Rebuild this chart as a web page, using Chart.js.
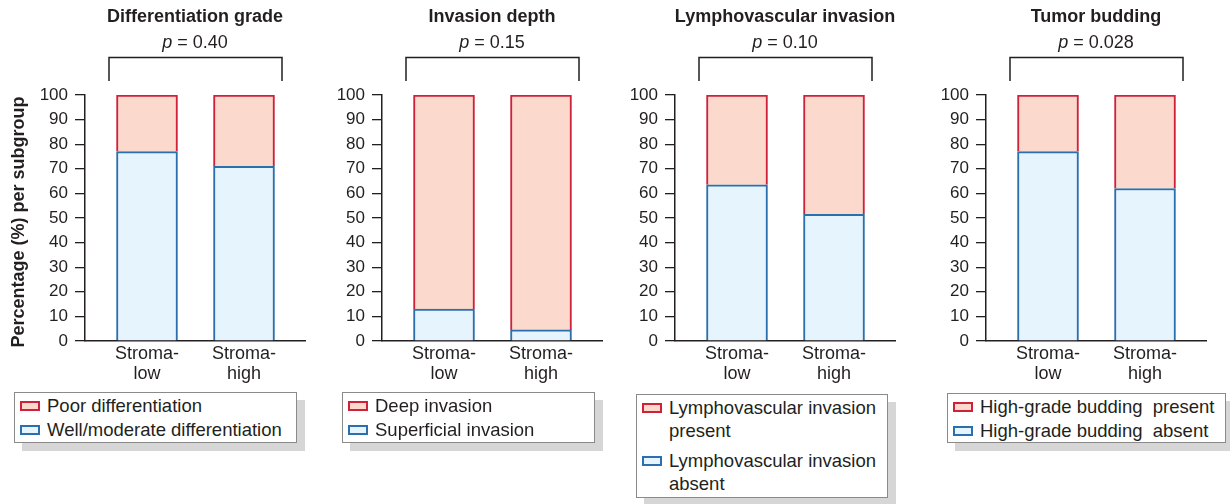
<!DOCTYPE html>
<html>
<head>
<meta charset="utf-8">
<script src="https://cdn.jsdelivr.net/npm/chart.js@4.4.1/dist/chart.umd.min.js"></script>
<style>
  body { margin: 0; background: #fff; }
  #wrap { position: relative; width: 1230px; height: 504px; overflow: hidden; font-family: 'Liberation Sans', Arial, sans-serif; color: #231f20; }
  .panel { position: absolute; top: 0; width: 310px; height: 390px; }
  .legend { position: absolute; box-sizing: border-box; background: #fff; border: 1px solid #8a8a8a;
            box-shadow: 8px 8px 0 #d6d6d6; font-size: 18.5px; line-height: 23px; padding: 1px 0 0 0; }
  .item { position: relative; padding-left: 32px; white-space: pre; margin-bottom: 1px; }
  .sw { position: absolute; left: 5px; top: 7px; width: 20px; height: 10px; box-sizing: border-box; border: 2px solid; }
</style>
</head>
<body>
<div id="wrap">
  <div class="panel" style="left:0px"><canvas id="c0" width="310" height="390"></canvas></div>
  <div class="panel" style="left:297px"><canvas id="c1" width="310" height="390"></canvas></div>
  <div class="panel" style="left:590px"><canvas id="c2" width="310" height="390"></canvas></div>
  <div class="panel" style="left:901px"><canvas id="c3" width="310" height="390"></canvas></div>
  <div id="legends"></div>
</div>
<script>
// data
const groupLabels = [['Stroma-', 'low'], ['Stroma-', 'high']];
const panelTitles = ['Differentiation grade', 'Invasion depth', 'Lymphovascular invasion', 'Tumor budding'];
const pValues = ['0.40', '0.15', '0.10', '0.028'];
const yTicks = [0, 10, 20, 30, 40, 50, 60, 70, 80, 90, 100];

const wellModerate = [77, 71];
const poorDiff = [23, 29];
const superficial = [13, 4.5];
const deepInv = [87, 95.5];
const lviAbsent = [63.5, 51.5];
const lviPresent = [36.5, 48.5];
const buddingAbsent = [77, 62];
const buddingPresent = [23, 38];

const legendLabels = [
  ['Poor differentiation', 'Well/moderate differentiation'],
  ['Deep invasion', 'Superficial invasion'],
  ['Lymphovascular invasion\npresent', 'Lymphovascular invasion\nabsent'],
  ['High-grade budding  present', 'High-grade budding  absent']
];

const lowerSeries = [wellModerate, superficial, lviAbsent, buddingAbsent];
const upperSeries = [poorDiff, deepInv, lviPresent, buddingPresent];

const legendBoxes = [
  {left: 14, top: 392, width: 283, height: 51},
  {left: 342, top: 392, width: 253, height: 51},
  {left: 636, top: 394, width: 252, height: 104},
  {left: 947, top: 393, width: 279, height: 50}
];

const RED = '#d0213a', PINK = '#fbd9cc', BLUE = '#2b6fae', LIGHTBLUE = '#e6f4fd';
const INK = '#231f20';
const FONT = "'Liberation Sans', Arial, sans-serif";

Chart.defaults.font.family = FONT;
Chart.defaults.color = INK;

const panelDecor = {
  id: 'panelDecor',
  afterDraw(chart, args, opts) {
    const ctx = chart.ctx, area = chart.chartArea, x = chart.scales.x;
    const mid = (area.left + area.right) / 2;
    ctx.save();
    ctx.fillStyle = INK;
    ctx.strokeStyle = INK;
    ctx.textBaseline = 'middle';

    ctx.font = 'bold 18px ' + FONT;
    ctx.textAlign = 'center';
    ctx.fillText(opts.title, mid, 17);

    // p value, italic p
    ctx.font = 'italic 18px ' + FONT;
    const pw = ctx.measureText('p').width;
    ctx.font = '18px ' + FONT;
    const rest = ' = ' + opts.p;
    const rw = ctx.measureText(rest).width;
    const sx = mid - (pw + rw) / 2;
    ctx.textAlign = 'left';
    ctx.font = 'italic 18px ' + FONT;
    ctx.fillText('p', sx, 43);
    ctx.font = '18px ' + FONT;
    ctx.fillText(rest, sx + pw, 43);

    // bracket
    const xl = x.getPixelForValue(0) - 38, xr = x.getPixelForValue(1) + 38;
    ctx.lineWidth = 1.5;
    ctx.beginPath();
    ctx.moveTo(xl, 81); ctx.lineTo(xl, 57.5); ctx.lineTo(xr, 57.5); ctx.lineTo(xr, 81);
    ctx.stroke();

    if (opts.yTitle) {
      ctx.translate(19, 222);
      ctx.rotate(-Math.PI / 2);
      ctx.textAlign = 'center';
      ctx.font = 'bold 18px ' + FONT;
      ctx.fillText(opts.yTitle, 0, 0);
    }
    ctx.restore();
  }
};

function makeChart(i) {
  const lower = lowerSeries[i].map((v, k) => ({x: k, y: v}));
  const upper = upperSeries[i].map((v, k) => ({x: k, y: v}));
  new Chart(document.getElementById('c' + i), {
    type: 'bar',
    data: {
      datasets: [
        {label: legendLabels[i][1], data: lower, backgroundColor: LIGHTBLUE, borderColor: BLUE, borderWidth: 2, barThickness: 61},
        {label: legendLabels[i][0], data: upper, backgroundColor: PINK, borderColor: RED, borderWidth: 2, barThickness: 61}
      ]
    },
    options: {
      responsive: false,
      animation: false,
      events: [],
      layout: {padding: {left: 0, right: 5, top: 95, bottom: 0}},
      plugins: {
        legend: {display: false},
        tooltip: {enabled: false},
        panelDecor: {title: panelTitles[i], p: pValues[i], yTitle: i === 0 ? 'Percentage (%) per subgroup' : null}
      },
      scales: {
        x: {
          type: 'linear',
          stacked: true,
          offset: false,
          min: -62 / 97,
          max: 158 / 97,
          afterBuildTicks: s => { s.ticks = [{value: 0}, {value: 1}]; },
          afterFit: s => { s.height = 49; },
          grid: {display: false, drawTicks: false, offset: false},
          border: {display: true, color: INK, width: 1.5},
          ticks: {
            autoSkip: false, maxRotation: 0, padding: 3,
            font: {size: 18, lineHeight: 1.11},
            callback: v => groupLabels[v]
          }
        },
        y: {
          stacked: true,
          min: 0, max: 100,
          afterBuildTicks: s => { s.ticks = yTicks.map(v => ({value: v})); },
          afterFit: s => { s.width = 85; },
          grid: {display: true, drawOnChartArea: false, drawTicks: true, tickLength: 10, color: INK, lineWidth: 1.3},
          border: {display: true, color: INK, width: 1.5},
          ticks: {padding: 7, font: {size: 17}}
        }
      }
    },
    plugins: [panelDecor]
  });
}

for (let i = 0; i < 4; i++) makeChart(i);

// legends
const legWrap = document.getElementById('legends');
legendBoxes.forEach((b, i) => {
  const d = document.createElement('div');
  d.className = 'legend';
  d.style.left = b.left + 'px';
  d.style.top = b.top + 'px';
  d.style.width = b.width + 'px';
  d.style.height = b.height + 'px';
  const swatches = [[PINK, RED], [LIGHTBLUE, BLUE]];
  legendLabels[i].forEach((txt, k) => {
    const it = document.createElement('div');
    it.className = 'item';
    if (i === 2 && k === 1) it.style.marginTop = '7px';
    const sw = document.createElement('span');
    sw.className = 'sw';
    sw.style.background = swatches[k][0];
    sw.style.borderColor = swatches[k][1];
    it.appendChild(sw);
    it.appendChild(document.createTextNode(txt));
    d.appendChild(it);
  });
  legWrap.appendChild(d);
});
</script>
</body>
</html>
